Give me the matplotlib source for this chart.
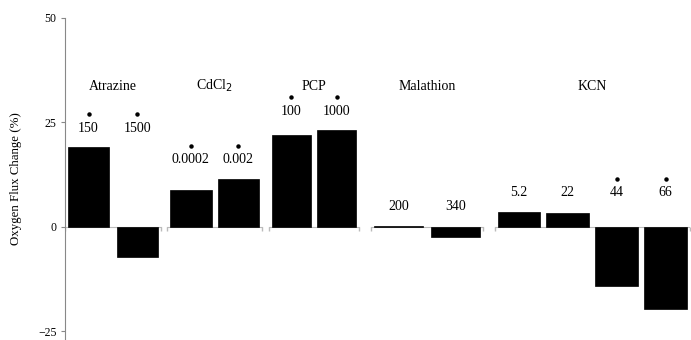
import matplotlib
matplotlib.use("Agg")
import matplotlib.pyplot as plt
import numpy as np

plt.rcParams['font.family'] = ['Liberation Serif', 'DejaVu Serif']

# data
groups = ["Atrazine", "CdCl$_2$", "PCP", "Malathion", "KCN"]
doses = [["150", "1500"],
         ["0.0002", "0.002"],
         ["100", "1000"],
         ["200", "340"],
         ["5.2", "22", "44", "66"]]
flux = [[19.1, -7.2],
        [8.9, 11.5],
        [22.0, 23.2],
        [0.3, -2.4],
        [3.6, 3.3, -14.1, -19.6]]
signif = [[1, 1], [1, 1], [1, 1], [0, 0], [0, 0, 1, 1]]

# layout of each group (bar step, bar width, gap to next group)
steps = [1.0, 0.97, 0.93, 1.16, 1.0]
widths = [0.84, 0.85, 0.80, 1.0, 0.86]
gaps = [1.09, 1.08, 1.26, 1.29, 0]

fig = plt.figure(figsize=(6.91, 3.40), dpi=100)
ax = fig.add_axes([65/691, 0, 625/691, 322/340])

start = 0.0
for i in range(len(groups)):
    n = len(flux[i])
    x = start + np.arange(n) * steps[i]
    ax.bar(x, flux[i], width=widths[i], color="black", edgecolor="black", linewidth=0.5)

    # zero line for this group
    x0 = x[0] - widths[i]/2 - 0.06
    x1 = x[-1] + widths[i]/2 + 0.06
    if i == 0:
        x0 = -0.48
    ax.plot([x0, x1], [0, 0], color="#bbbbbb", lw=0.8, zorder=0)
    ax.plot([x0, x1], [-0.6, -0.6], "|", color="#bbbbbb", ms=3, zorder=0)

    # dose labels and stars
    top = max(0, max(flux[i])) + 4.5
    for j in range(n):
        ax.text(x[j], top, doses[i][j], ha="center", va="center", fontsize=10)
        if signif[i][j]:
            ax.plot(x[j], top + 3.4, "o", color="black", ms=2.2)

    ax.text((x[0] + x[-1]) / 2, 33.7, groups[i], ha="center", va="center", fontsize=10)
    start = x[-1] + gaps[i]

ax.set_xlim(-0.48, 12.28)
ax.set_ylim(-27.1, 50)
ax.set_yticks([-25, 0, 25, 50])
ax.set_xticks([])
ax.tick_params(axis="y", length=3, color="#888888", labelsize=8.5, pad=3)
for s in ["top", "right", "bottom"]:
    ax.spines[s].set_visible(False)
ax.spines["left"].set_color("#888888")
ax.spines["left"].set_linewidth(0.8)
ax.set_ylabel("Oxygen Flux Change (%)", fontsize=9.3, labelpad=12)

fig.savefig("out.png", dpi=100)
